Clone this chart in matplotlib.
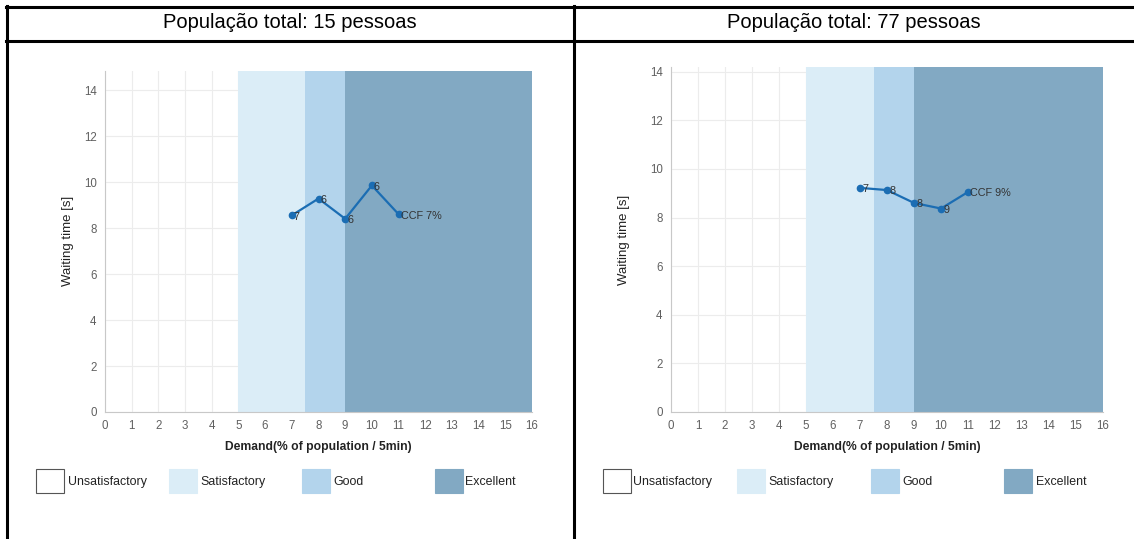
import matplotlib
matplotlib.use('Agg')
import matplotlib.pyplot as plt
from matplotlib.patches import Rectangle
from matplotlib.lines import Line2D

# dados
demand = [7, 8, 9, 10, 11]
wait_15 = [8.55, 9.28, 8.4, 9.85, 8.6]
labels_15 = ['7', '6', '6', '6', 'CCF 7%']
wait_77 = [9.22, 9.13, 8.6, 8.37, 9.05]
labels_77 = ['7', '8', '8', '9', 'CCF 9%']

titles = ['População total: 15 pessoas', 'População total: 77 pessoas']

band_names = ['Unsatisfactory', 'Satisfactory', 'Good', 'Excellent']
band_edges = [0, 5, 7.5, 9, 16]
band_colors = ['white', '#dbedf7', '#b3d4ec', '#82a9c3']

W, H = 1134, 539
fig = plt.figure(figsize=(W / 100, H / 100), dpi=100)

plain = ['Liberation Sans', 'DejaVu Sans']


def fx(x):
    return x / W


def fy(y):
    return 1 - y / H


def draw_panel(left, right, top, bottom, ymax, wait, labels,
               legend_box_x, legend_label_x, ylabel_x):
    ax = fig.add_axes([fx(left), fy(bottom), fx(right) - fx(left), fy(top) - fy(bottom)])
    ax.set_xlim(0, 16)
    ax.set_ylim(0, ymax)
    ax.set_xticks(range(0, 17))
    ax.set_yticks(range(0, 15, 2))
    ax.grid(True, color='#ececec', linewidth=0.8, zorder=0)
    ax.set_axisbelow(True)
    for i in range(1, 4):
        ax.axvspan(band_edges[i], band_edges[i + 1], color=band_colors[i], zorder=1, lw=0)
    for s in ['top', 'right']:
        ax.spines[s].set_visible(False)
    for s in ['left', 'bottom']:
        ax.spines[s].set_color('#c8c8c8')
        ax.spines[s].set_zorder(3)
    ax.tick_params(length=0, labelsize=8.3, labelcolor='#606060', pad=6)
    for t in ax.get_xticklabels() + ax.get_yticklabels():
        t.set_family(plain)

    ax.plot(demand, wait, color='#1b6db3', lw=1.6, marker='o', ms=4.5, zorder=4)
    for x, y, lab in zip(demand, wait, labels):
        ax.annotate(lab, (x, y), xytext=(1.5, -1), textcoords='offset points',
                    ha='left', va='center', fontsize=7.8, color='#333333',
                    family=plain, zorder=5)

    ax.set_xlabel('Demand(% of population / 5min)', fontsize=8.7, fontweight='bold',
                  family=plain, color='#222222', labelpad=6)
    fig.text(fx(ylabel_x), fy((top + bottom) / 2), 'Waiting time [s]', rotation=90,
             ha='center', va='center', fontsize=9.5, family=plain, color='#222222')

    # legenda desenhada à mão
    for i, name in enumerate(band_names):
        bx = legend_box_x[i]
        ec = '#555555' if i == 0 else band_colors[i]
        fig.add_artist(Rectangle((fx(bx), fy(493)), fx(28), fy(469) - fy(493),
                                 transform=fig.transFigure, facecolor=band_colors[i],
                                 edgecolor=ec, lw=0.8))
        fig.text(fx(legend_label_x[i]), fy(482), name, ha='left', va='center',
                 fontsize=8.9, family=plain, color='#222222')
    return ax


draw_panel(105, 532, 70.7, 412, 14.84, wait_15, labels_15,
           [36, 169, 302, 435], [68, 200, 333, 465], 68)
draw_panel(671, 1103, 67.3, 412, 14.18, wait_77, labels_77,
           [603, 737, 871, 1004], [633, 768, 902, 1036], 624)

# títulos e linhas da tabela
fig.text(fx(290), fy(23), titles[0], ha='center', va='center', fontsize=14.5,
         family=plain, color='black')
fig.text(fx(854), fy(23), titles[1], ha='center', va='center', fontsize=14.5,
         family=plain, color='black')

lw = 2.2
for (x0, y0, x1, y1) in [(6, 6.5, 1134, 6.5), (6, 41, 1134, 41),
                         (7, 6, 7, 539), (574, 6, 574, 539)]:
    fig.add_artist(Line2D([fx(x0), fx(x1)], [fy(y0), fy(y1)], color='black', lw=lw,
                          transform=fig.transFigure))

fig.savefig('out.png', dpi=100)
